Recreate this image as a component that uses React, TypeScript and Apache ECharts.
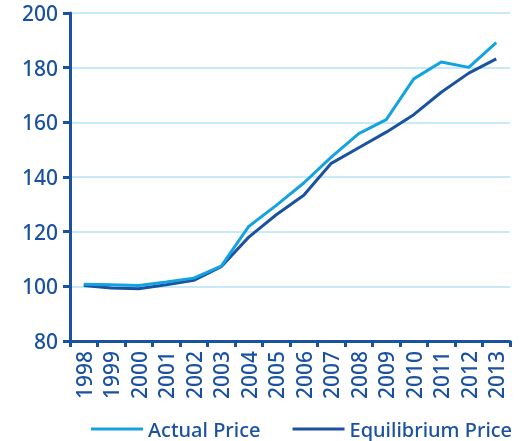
import React, { useEffect, useRef } from "react";
import * as echarts from "echarts";

const years = ["1998","1999","2000","2001","2002","2003","2004","2005","2006","2007","2008","2009","2010","2011","2012","2013"];
const actualPrice = [100.8, 100.6, 100.3, 101.6, 103.0, 107.4, 121.9, 129.6, 137.8, 147.3, 155.9, 161.0, 175.9, 182.1, 180.1, 189.2];
const equilibriumPrice = [100.3, 99.4, 99.1, 100.6, 102.2, 107.2, 118.0, 126.2, 133.3, 145.0, 150.7, 156.4, 162.8, 171.0, 178.0, 183.2];
const yTicks = { min: 80, max: 200, interval: 20 };

const dark = "#1a52a0";
const light = "#14a3e0";
const font = "Noto Sans";

export default function App() {
  const ref = useRef<HTMLDivElement>(null);
  useEffect(() => {
    const chart = echarts.init(ref.current!, null, { renderer: "svg" });
    chart.setOption({
      animation: false,
      textStyle: { fontFamily: font },
      grid: { left: 70, right: 15, top: 13, bottom: 100, containLabel: false },
      legend: {
        top: 414,
        left: 86,
        itemWidth: 52,
        itemHeight: 3,
        itemGap: 32,
        icon: "rect",
        textStyle: { fontSize: 20, color: dark, fontFamily: font, fontWeight: 500 },
        data: ["Actual Price", "Equilibrium Price"],
      },
      xAxis: {
        type: "category",
        data: years,
        boundaryGap: true,
        axisLine: { lineStyle: { color: dark, width: 3 } },
        axisTick: { show: true, length: 6, lineStyle: { color: dark, width: 3 } },
        axisLabel: { rotate: 90, fontSize: 21, color: dark, margin: 10, interval: 0, fontFamily: font, fontWeight: 500 },
      },
      yAxis: {
        type: "value",
        min: yTicks.min,
        max: yTicks.max,
        interval: yTicks.interval,
        axisLine: { show: true, lineStyle: { color: dark, width: 3 } },
        axisTick: { show: true, length: 7, lineStyle: { color: dark, width: 3 } },
        axisLabel: { fontSize: 21, lineHeight: 22, color: dark, margin: 12, fontFamily: font, fontWeight: 500 },
        splitLine: { lineStyle: { color: "#b5e2f6", width: 1.5 } },
      },
      series: [
        {
          name: "Actual Price",
          type: "line",
          data: actualPrice,
          symbol: "none",
          lineStyle: { color: light, width: 3 },
          itemStyle: { color: light },
          z: 3,
        },
        {
          name: "Equilibrium Price",
          type: "line",
          data: equilibriumPrice,
          symbol: "none",
          lineStyle: { color: dark, width: 3 },
          itemStyle: { color: dark },
          z: 2,
        },
      ],
    });
    return () => chart.dispose();
  }, []);
  return <div ref={ref} style={{ position: "fixed", left: 0, top: 0, width: 525, height: 441 }} />;
}
